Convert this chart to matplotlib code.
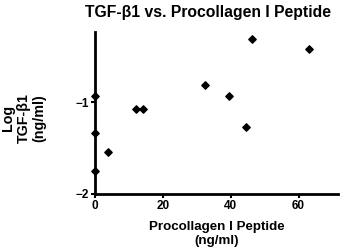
import matplotlib.pyplot as plt

plt.rcParams["font.family"] = ["Liberation Sans", "DejaVu Sans"]
plt.rcParams["font.weight"] = "bold"

# Procollagen I peptide (ng/ml) vs log TGF-b1 (ng/ml)
procollagen = [0, 0, 0, 3.9, 12.1, 14.2, 32.3, 39.6, 44.4, 46.2, 63.1]
log_tgf = [-0.93, -1.34, -1.75, -1.54, -1.08, -1.08, -0.81, -0.93, -1.27, -0.32, -0.42]
x_ticks = [0, 20, 40, 60]
y_ticks = [-2, -1]

fig = plt.figure(figsize=(3.4, 2.49), dpi=100)
ax = fig.add_axes([0.279, 0.221, 0.715, 0.65])
ax.scatter(procollagen, log_tgf, marker="D", s=14, color="black", zorder=3,
           clip_on=False)

ax.set_xlim(0, 71.6)
ax.set_ylim(-2, -0.24)
ax.set_xticks(x_ticks)
ax.set_yticks(y_ticks)
ax.tick_params(labelsize=8.5, width=1.5, length=3, pad=1)
for lbl in ax.get_xticklabels() + ax.get_yticklabels():
    lbl.set_fontweight("bold")
for sp in ("top", "right"):
    ax.spines[sp].set_visible(False)
for sp in ("left", "bottom"):
    ax.spines[sp].set_linewidth(2)

ax.set_title("TGF-β1 vs. Procollagen I Peptide", fontsize=11.3,
             fontweight="bold", pad=11, x=0.467)
ax.set_xlabel("Procollagen I Peptide\n(ng/ml)", fontsize=9.6,
              fontweight="bold", labelpad=7, linespacing=1.15)
ax.set_ylabel("Log\nTGF-β1\n(ng/ml)", fontsize=10.3, fontweight="bold",
              linespacing=1.15)
ax.yaxis.set_label_coords(-0.2, 0.47)

fig.savefig("out.png", dpi=100)
